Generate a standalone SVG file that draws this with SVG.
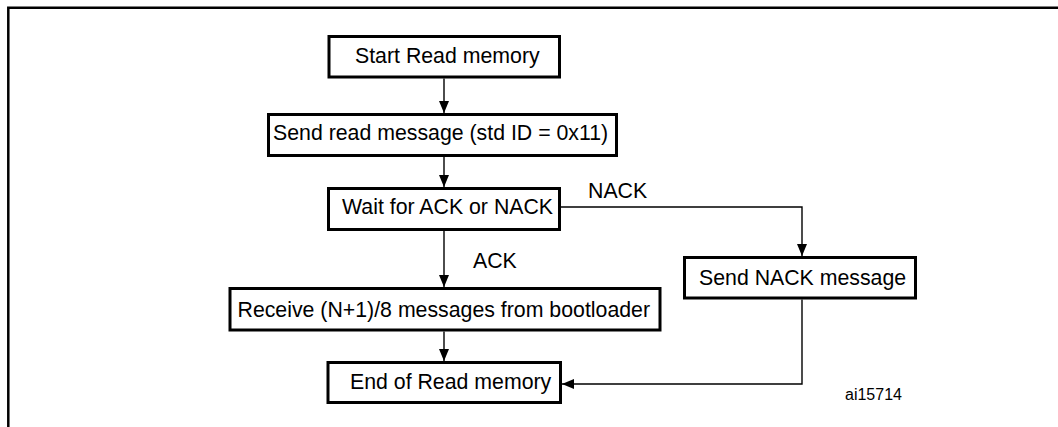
<svg xmlns="http://www.w3.org/2000/svg" width="1058" height="427" viewBox="0 0 1058 427">
<style>
.box{fill:#fff;stroke:#000;stroke-width:3}
.t{font-family:"Liberation Sans",Arial,sans-serif;font-size:21.3px;fill:#000}
.s{font-family:"Liberation Sans",Arial,sans-serif;font-size:16px;fill:#000}
.c{fill:none;stroke:#000;stroke-width:1.4}
.frame{fill:none;stroke:#000;stroke-width:2.5}
</style>
<defs>
<marker id="arr" markerUnits="userSpaceOnUse" markerWidth="12" markerHeight="10" refX="12" refY="5" orient="auto">
<path d="M0,0 L12,5 L0,10 z" fill="#000"/>
</marker>
</defs>
<path class="frame" d="M8.3,427 V7.8 H1058"/>
<g id="connectors">
<line class="c" x1="444" y1="78.5" x2="444" y2="113" marker-end="url(#arr)"/>
<line class="c" x1="444" y1="157" x2="444" y2="187" marker-end="url(#arr)"/>
<line class="c" x1="444" y1="231" x2="444" y2="287" marker-end="url(#arr)"/>
<line class="c" x1="444" y1="331.5" x2="444" y2="361" marker-end="url(#arr)"/>
<polyline class="c" points="561,207 802,207 802,256" marker-end="url(#arr)"/>
<polyline class="c" points="802,299.5 802,384 562,384" marker-end="url(#arr)"/>
<text class="t" x="473" y="268">ACK</text>
<text class="t" x="588" y="198">NACK</text>
</g>
<g id="start">
<rect class="box" x="329" y="36.5" width="230.5" height="40.5"/>
<text class="t" x="355" y="62.5">Start Read memory</text>
</g>
<g id="send-read">
<rect class="box" x="268.5" y="114.5" width="348" height="41"/>
<text class="t" x="273" y="140">Send read message (std ID = 0x11)</text>
</g>
<g id="wait">
<rect class="box" x="328.5" y="188.5" width="231" height="41"/>
<text class="t" x="342" y="214">Wait for ACK or NACK</text>
</g>
<g id="receive">
<rect class="box" x="230" y="288.5" width="430" height="41.5"/>
<text class="t" x="237.5" y="316.5">Receive (N+1)/8 messages from bootloader</text>
</g>
<g id="send-nack">
<rect class="box" x="684.5" y="257.5" width="231" height="40.5"/>
<text class="t" x="699" y="285">Send NACK message</text>
</g>
<g id="end">
<rect class="box" x="328" y="362.5" width="232.5" height="40"/>
<text class="t" x="350" y="388.5">End of Read memory</text>
</g>
<text class="s" x="845" y="400">ai15714</text>
</svg>
